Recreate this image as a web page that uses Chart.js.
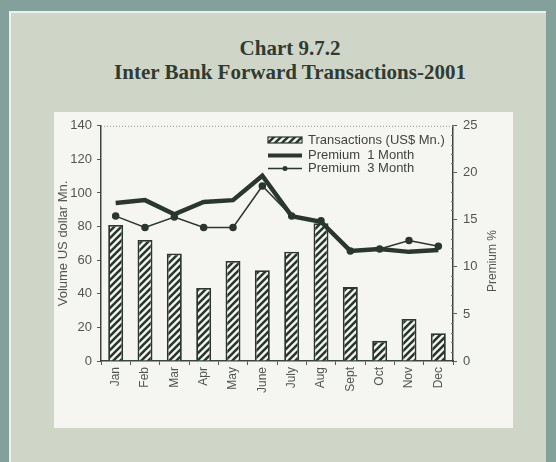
<!DOCTYPE html>
<html>
<head>
<meta charset="utf-8">
<script src="https://cdn.jsdelivr.net/npm/chart.js@4.4.0/dist/chart.umd.min.js"></script>
<style>
  html, body { margin: 0; padding: 0; }
  body { width: 556px; height: 462px; background: #84a09a; position: relative; overflow: hidden; }
  #panel { position: absolute; left: 9px; top: 11px; width: 535px; height: 460px; background: #cfd6c8;
           border-top: 2px solid #eef1ea; border-left: 2px solid #eef1ea; }
  #title { position: absolute; left: 0; top: 36px; width: 580px; text-align: center;
           font: bold 21px "Liberation Serif", "Times New Roman", serif; color: #2f3b33; line-height: 24px; }
  #box { position: absolute; left: 54px; top: 112px; width: 459px; height: 316px; background: #f5f6f2; }
  #chart { position: absolute; left: 0; top: 0; }
</style>
</head>
<body>
<div id="panel"></div>
<div id="title">Chart 9.7.2<br>Inter Bank Forward Transactions-2001</div>
<div id="box"><canvas id="chart" width="459" height="316"></canvas></div>

<script>
// ── data ──
const months = ['Jan', 'Feb', 'Mar', 'Apr', 'May', 'June', 'July', 'Aug', 'Sept', 'Oct', 'Nov', 'Dec'];
const transactions = [81, 72, 64, 43.5, 59.5, 54, 65, 82, 44, 12, 25, 16.5];       // US$ Mn.
const premium1M = [16.8, 17.1, 15.6, 16.9, 17.1, 19.7, 15.4, 14.8, 11.7, 11.9, 11.6, 11.8]; // %
const premium3M = [15.4, 14.2, 15.3, 14.2, 14.2, 18.6, 15.4, 14.9, 11.7, 11.9, 12.8, 12.2]; // %
const legendLabels = ['Transactions (US$ Mn.)', 'Premium  1 Month', 'Premium  3 Month'];

const INK = '#2a372e';
const TEXT = '#50564f';
const FONT = '"Liberation Sans", Arial, sans-serif';

// diagonal hatch for the bars
function makeHatch() {
  const s = 7;
  const c = document.createElement('canvas');
  c.width = s; c.height = s;
  const g = c.getContext('2d');
  g.fillStyle = '#f5f6f2';
  g.fillRect(0, 0, s, s);
  g.strokeStyle = INK;
  g.lineWidth = 2.6;
  g.beginPath();
  g.moveTo(-1, s + 1); g.lineTo(s + 1, -1);
  g.moveTo(-s / 2 - 1, s / 2 + 1); g.lineTo(s / 2 + 1, -s / 2 - 1);
  g.moveTo(s / 2 - 1, s * 1.5 + 1); g.lineTo(s * 1.5 + 1, s / 2 - 1);
  g.stroke();
  return g.createPattern(c, 'repeat');
}
const hatch = makeHatch();

// frame top, minor ticks, right-hand title and the in-plot legend
const extras = {
  id: 'extras',
  afterDraw(chart) {
    const ctx = chart.ctx;
    const a = chart.chartArea;
    const y1 = chart.scales.y1;
    ctx.save();

    // dotted top edge of the frame
    ctx.strokeStyle = '#8a8f88';
    ctx.lineWidth = 1;
    ctx.setLineDash([1, 2]);
    ctx.beginPath();
    ctx.moveTo(a.left, a.top + 0.5);
    ctx.lineTo(a.right, a.top + 0.5);
    ctx.stroke();
    ctx.setLineDash([]);

    // minor ticks on the right axis
    ctx.strokeStyle = '#6b706a';
    for (let v = 1; v < 25; v++) {
      if (v % 5 === 0) continue;
      const py = Math.round(y1.getPixelForValue(v)) + 0.5;
      ctx.beginPath();
      ctx.moveTo(a.right - 2, py);
      ctx.lineTo(a.right, py);
      ctx.stroke();
    }

    // right axis title, reading bottom to top
    ctx.fillStyle = TEXT;
    ctx.font = '12px ' + FONT;
    ctx.textAlign = 'center';
    ctx.textBaseline = 'middle';
    ctx.translate(439, 149);
    ctx.rotate(-Math.PI / 2);
    ctx.fillText('Premium %', 0, 0);
    ctx.setTransform(1, 0, 0, 1, 0, 0);

    // legend
    const lx = 214, lw = 34, tx = 254;
    const rows = [28, 43.5, 56.5];
    ctx.fillStyle = hatch;
    ctx.fillRect(lx, rows[0] - 3, lw, 6);
    ctx.strokeStyle = INK;
    ctx.lineWidth = 1.2;
    ctx.strokeRect(lx, rows[0] - 3, lw, 6);

    ctx.lineWidth = 4;
    ctx.beginPath();
    ctx.moveTo(lx, rows[1]);
    ctx.lineTo(lx + lw, rows[1]);
    ctx.stroke();

    ctx.lineWidth = 1.5;
    ctx.beginPath();
    ctx.moveTo(lx, rows[2]);
    ctx.lineTo(lx + lw, rows[2]);
    ctx.stroke();
    ctx.fillStyle = INK;
    ctx.beginPath();
    ctx.arc(lx + lw / 2, rows[2], 2.5, 0, Math.PI * 2);
    ctx.fill();

    ctx.fillStyle = '#3d433d';
    ctx.font = '13px ' + FONT;
    ctx.textAlign = 'left';
    ctx.textBaseline = 'middle';
    legendLabels.forEach((t, i) => ctx.fillText(t, tx, rows[i]));

    ctx.restore();
  }
};

new Chart(document.getElementById('chart'), {
  data: {
    labels: months,
    datasets: [
      {
        type: 'line',
        label: legendLabels[2],
        data: premium3M,
        yAxisID: 'y1',
        borderColor: INK,
        borderWidth: 1.5,
        pointRadius: 3,
        pointBackgroundColor: INK,
        pointBorderColor: INK,
        tension: 0,
        order: 1
      },
      {
        type: 'line',
        label: legendLabels[1],
        data: premium1M,
        yAxisID: 'y1',
        borderColor: INK,
        borderWidth: 4.5,
        pointRadius: 0,
        tension: 0,
        order: 2
      },
      {
        type: 'bar',
        label: legendLabels[0],
        data: transactions,
        yAxisID: 'y',
        backgroundColor: hatch,
        borderColor: INK,
        borderWidth: 1.8,
        borderSkipped: 'start',
        categoryPercentage: 1,
        barPercentage: 0.51,
        order: 3
      }
    ]
  },
  options: {
    responsive: false,
    animation: false,
    layout: { padding: { top: 13, left: 0, right: 0, bottom: 0 } },
    plugins: { legend: { display: false }, tooltip: { enabled: false } },
    scales: {
      x: {
        offset: true,
        grid: { display: true, drawOnChartArea: false, offset: true, tickLength: 4, color: '#555a54' },
        border: { display: true, color: '#3e443e', width: 1.5 },
        ticks: { color: TEXT, font: { family: FONT, size: 12 }, minRotation: 90, maxRotation: 90,
                 autoSkip: false, padding: 2 },
        afterFit(s) { s.height = 67; }
      },
      y: {
        position: 'left',
        min: 0, max: 140,
        ticks: { stepSize: 20, color: TEXT, font: { family: FONT, size: 13 }, padding: 5 },
        grid: { drawOnChartArea: false, tickLength: 4, color: '#555a54' },
        border: { display: true, color: '#3e443e', width: 1.5 },
        title: { display: true, text: 'Volume US dollar Mn.', color: TEXT,
                 font: { family: FONT, size: 13 }, padding: { top: 2, bottom: 0 } },
        afterFit(s) { s.width = 47; }
      },
      y1: {
        position: 'right',
        min: 0, max: 25,
        ticks: { stepSize: 5, color: TEXT, font: { family: FONT, size: 13 }, padding: 6 },
        grid: { drawOnChartArea: false, tickLength: 4, color: '#555a54' },
        border: { display: true, color: '#3e443e', width: 1.5 },
        afterFit(s) { s.width = 60; }
      }
    }
  },
  plugins: [extras]
});
</script>
</body>
</html>
